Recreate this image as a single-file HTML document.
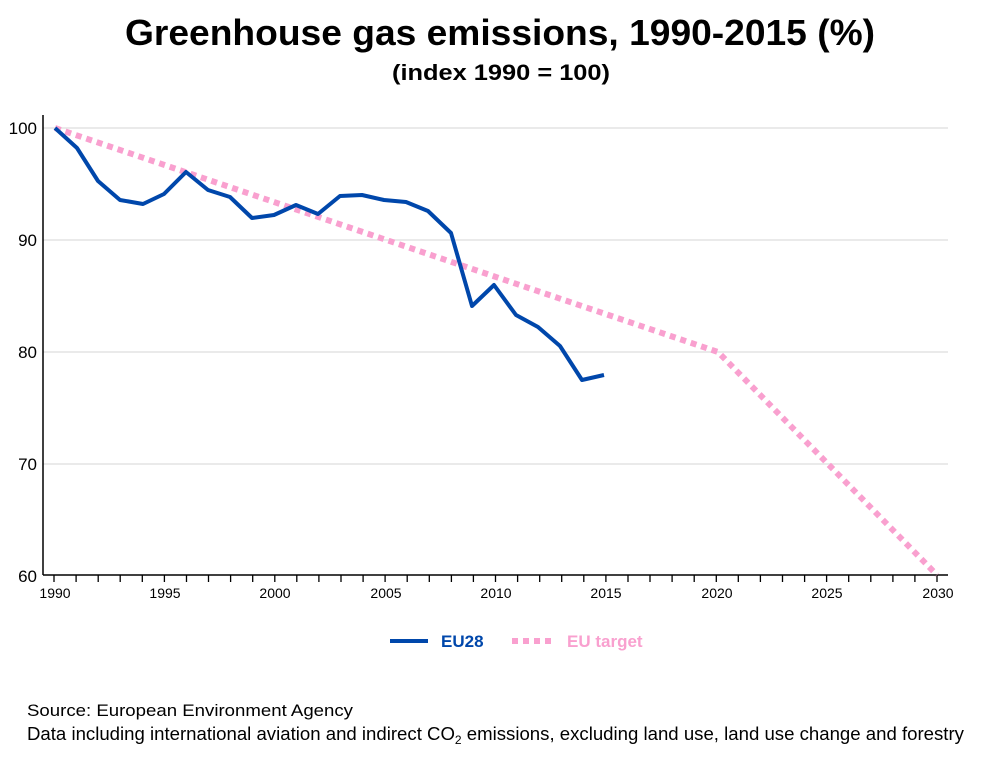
<!DOCTYPE html>
<html><head><meta charset="utf-8"><style>
body{margin:0;background:#fff;}
svg text{font-family:"Liberation Sans",sans-serif;}
</style></head><body>
<svg width="1000" height="752" xmlns="http://www.w3.org/2000/svg">
<text x="125" y="45" textLength="750" lengthAdjust="spacingAndGlyphs" font-size="36" font-weight="bold" fill="#000">Greenhouse gas emissions, 1990-2015 (%)</text>
<text x="392" y="80" textLength="218" lengthAdjust="spacingAndGlyphs" font-size="22" font-weight="bold" fill="#000">(index 1990 = 100)</text>
<g stroke="#e3e3e3" stroke-width="1.5">
<line x1="43" y1="128" x2="948" y2="128"/><line x1="43" y1="240" x2="948" y2="240"/>
<line x1="43" y1="352" x2="948" y2="352"/><line x1="43" y1="464" x2="948" y2="464"/>
</g>
<g font-size="17" fill="#000" text-anchor="end">
<text x="37" y="134">100</text><text x="37" y="246">90</text><text x="37" y="358">80</text><text x="37" y="470">70</text><text x="37" y="582">60</text>
</g>
<line x1="43" y1="115" x2="43" y2="575" stroke="#000" stroke-width="1.5"/>
<line x1="43" y1="575" x2="948" y2="575" stroke="#000" stroke-width="1.5"/>
<path stroke="#000" stroke-width="1.3" fill="none" d="M54 575v7M76.1 575v7M98.2 575v7M120.2 575v7M142.3 575v7M164.4 575v7M186.5 575v7M208.5 575v7M230.6 575v7M252.7 575v7M274.8 575v7M296.8 575v7M318.9 575v7M341 575v7M363.1 575v7M385.1 575v7M407.2 575v7M429.3 575v7M451.4 575v7M473.4 575v7M495.5 575v7M517.6 575v7M539.7 575v7M561.7 575v7M583.8 575v7M605.9 575v7M628 575v7M650 575v7M672.1 575v7M694.2 575v7M716.3 575v7M738.3 575v7M760.4 575v7M782.5 575v7M804.6 575v7M826.6 575v7M848.7 575v7M870.8 575v7M892.9 575v7M914.9 575v7M937 575v7"/>
<g font-size="14" fill="#000" text-anchor="middle">
<text x="55" y="598">1990</text><text x="165" y="598">1995</text><text x="275" y="598">2000</text><text x="386" y="598">2005</text><text x="496" y="598">2010</text><text x="606" y="598">2015</text><text x="717" y="598">2020</text><text x="827" y="598">2025</text><text x="938" y="598">2030</text>
</g>
<polyline points="55,128 718,352 937,575" fill="none" stroke="#f9a0cf" stroke-width="6" stroke-dasharray="6,5"/>
<polyline points="55,128 77,148 98,181 120,200 143,204 164,194 186,172 208,190 230,197 252,218 274,215 296,205 318,214 340,196 362,195 384,200 406,202 428,211 451,233 472,306 494,285 516,315 538,327 560,346 582,380 604,375" fill="none" stroke="#0047ab" stroke-width="4" stroke-linejoin="round"/>
<line x1="390" y1="641" x2="428" y2="641" stroke="#0047ab" stroke-width="4"/>
<text x="441" y="647" font-size="17" font-weight="bold" fill="#0047ab">EU28</text>
<line x1="512" y1="641" x2="553" y2="641" stroke="#f9a0cf" stroke-width="6" stroke-dasharray="6,5"/>
<text x="567" y="647" font-size="17" font-weight="bold" fill="#f9a0cf">EU target</text>
<text x="27" y="716" textLength="326" lengthAdjust="spacingAndGlyphs" font-size="17" fill="#000">Source: European Environment Agency</text>
<text x="27" y="740" font-size="18.6" fill="#000">Data including international aviation and indirect CO<tspan font-size="12" dy="4">2</tspan><tspan dy="-4"> emissions, excluding land use, land use change and forestry</tspan></text>
</svg>
</body></html>
